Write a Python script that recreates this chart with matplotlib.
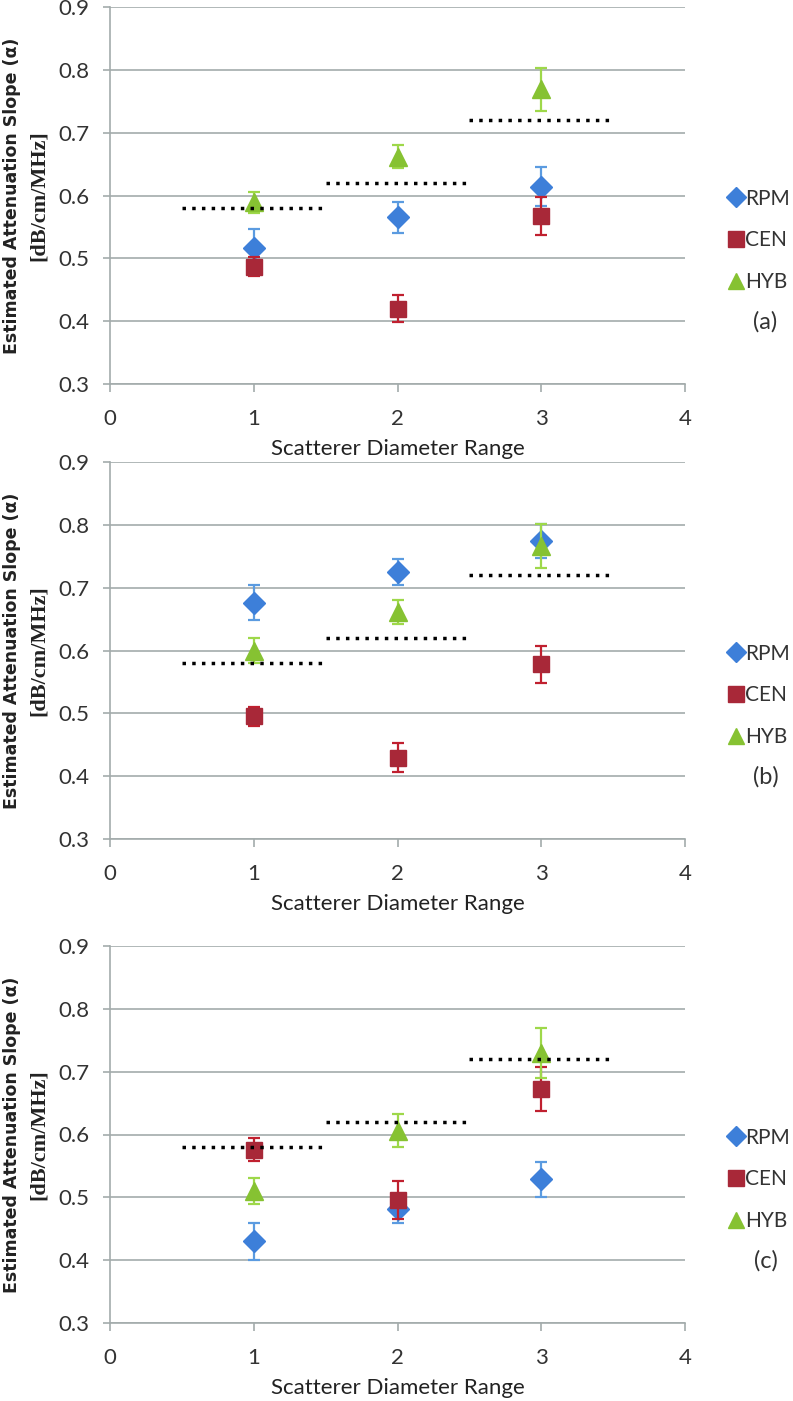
import matplotlib
matplotlib.use("Agg")
import matplotlib.pyplot as plt
from matplotlib.lines import Line2D

# data
x_range = [1, 2, 3]
true_slope = [0.58, 0.62, 0.72]

rpm_a = [0.516, 0.565, 0.614]
rpm_a_err = [0.031, 0.025, 0.031]
cen_a = [0.487, 0.420, 0.567]
cen_a_err = [0.015, 0.022, 0.030]
hyb_a = [0.589, 0.662, 0.769]
hyb_a_err = [0.017, 0.018, 0.034]

rpm_b = [0.676, 0.725, 0.774]
rpm_b_err = [0.028, 0.021, 0.027]
cen_b = [0.495, 0.429, 0.578]
cen_b_err = [0.015, 0.023, 0.029]
hyb_b = [0.600, 0.661, 0.767]
hyb_b_err = [0.020, 0.019, 0.035]

rpm_c = [0.430, 0.481, 0.529]
rpm_c_err = [0.029, 0.022, 0.028]
cen_c = [0.576, 0.496, 0.672]
cen_c_err = [0.018, 0.030, 0.035]
hyb_c = [0.510, 0.606, 0.730]
hyb_c_err = [0.020, 0.026, 0.040]

series_names = ['RPM', 'CEN', 'HYB']
marker_colors = ['#3d7fd9', '#a82838', '#86c232']
err_colors = ['#5b9be0', '#c0202f', '#9ed84a']
markers = ['D', 's', '^']
marker_sizes = [11, 12, 13]

narrow = ['Lato', 'DejaVu Sans']
grid_col = '#a3abab'

fig = plt.figure(figsize=(7.93, 14.01), dpi=100)

# axes positions (left, bottom, width, height) in figure fraction
left = 110 / 793
width = 575 / 793
height = 377 / 1401
bottoms = [1 - 384 / 1401, 1 - 839 / 1401, 1 - 1323 / 1401]


def draw_panel(bottom, values, errors, tag):
    ax = fig.add_axes([left, bottom, width, height])
    for i in range(3):
        ax.errorbar(x_range, values[i], yerr=errors[i], fmt='none',
                    ecolor=err_colors[i], elinewidth=1.6, capsize=4,
                    capthick=1.6, zorder=3 + i)
        ax.plot(x_range, values[i], linestyle='none', marker=markers[i],
                ms=marker_sizes[i], color=marker_colors[i], mec=marker_colors[i],
                zorder=3 + i)
    for xv, sv in zip(x_range, true_slope):
        ax.plot([xv - 0.5, xv + 0.5], [sv, sv], color='black', lw=2.5,
                linestyle=(0, (1, 1.8)), zorder=8)

    ax.set_xlim(0, 4)
    ax.set_ylim(0.3, 0.9)
    ax.set_xticks([0, 1, 2, 3, 4])
    ax.set_yticks([0.3, 0.4, 0.5, 0.6, 0.7, 0.8, 0.9])
    ax.set_yticklabels(['0.3', '0.4', '0.5', '0.6', '0.7', '0.8', '0.9'])
    ax.yaxis.grid(True, color=grid_col, lw=1.2)
    ax.set_axisbelow(True)
    for s in ['top', 'right']:
        ax.spines[s].set_visible(False)
    ax.spines['left'].set_color(grid_col)
    ax.spines['bottom'].set_color(grid_col)
    ax.spines['left'].set_linewidth(1.2)
    ax.spines['bottom'].set_linewidth(1.2)
    ax.tick_params(axis='y', length=5, width=1.2, color=grid_col, pad=10,
                   labelsize=16, labelcolor='#333333')
    ax.tick_params(axis='x', length=6, width=1.2, color=grid_col, pad=12,
                   labelsize=16, labelcolor='#333333')
    for lab in ax.get_xticklabels() + ax.get_yticklabels():
        lab.set_family(narrow)

    ax.set_xlabel('Scatterer Diameter Range', family=narrow, fontsize=16,
                  labelpad=7, color='#222222')

    handles = [Line2D([], [], linestyle='none', marker=markers[i],
                      ms=marker_sizes[i] - 1, color=marker_colors[i])
               for i in range(3)]
    leg = ax.legend(handles, series_names, loc='upper left',
                    bbox_to_anchor=(1.052, 0.557), frameon=False,
                    handlelength=0.6, handletextpad=0.15, labelspacing=1.05,
                    borderaxespad=0.3, prop={'family': narrow, 'size': 15})
    for t in leg.get_texts():
        t.set_color('#333333')
    ax.text(1.14, 0.165, tag, transform=ax.transAxes, ha='center',
            va='center', family=narrow, fontsize=17, color='#333333')

    # two-line y label
    yc = bottom + height / 2
    fig.text(12 / 793, yc, 'Estimated Attenuation Slope (\u03b1)',
             rotation=90, ha='center', va='center', fontsize=12.5,
             fontweight='bold', color='#222222')
    fig.text(39 / 793, yc, '[dB/cm/MHz]', rotation=90, ha='center',
             va='center', fontsize=16, fontweight='bold',
             family=['Liberation Serif', 'DejaVu Serif'], color='#222222')
    return ax


draw_panel(bottoms[0], [rpm_a, cen_a, hyb_a], [rpm_a_err, cen_a_err, hyb_a_err], '(a)')
draw_panel(bottoms[1], [rpm_b, cen_b, hyb_b], [rpm_b_err, cen_b_err, hyb_b_err], '(b)')
draw_panel(bottoms[2], [rpm_c, cen_c, hyb_c], [rpm_c_err, cen_c_err, hyb_c_err], '(c)')

fig.savefig('out.png', dpi=100)
